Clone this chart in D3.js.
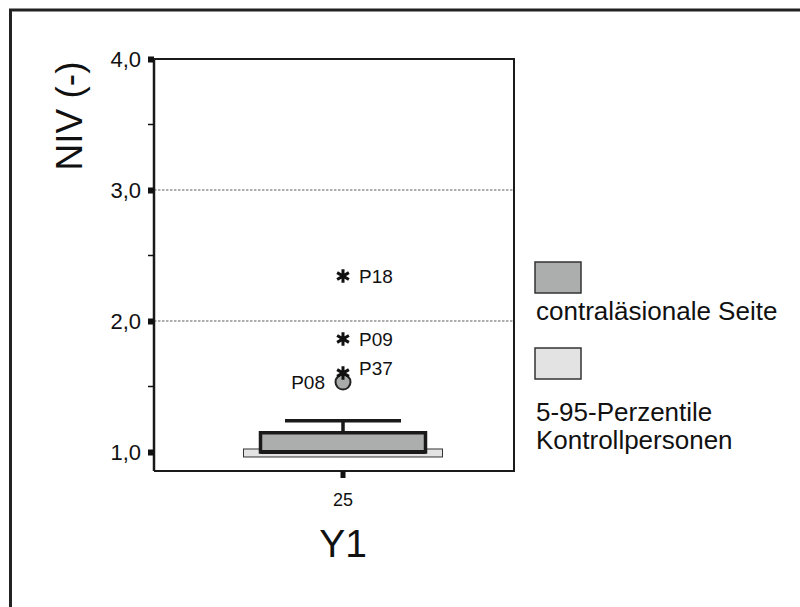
<!DOCTYPE html>
<html><head><meta charset="utf-8">
<script src="https://cdn.jsdelivr.net/npm/d3@7"></script>
<style>
html,body{margin:0;padding:0;background:#fff;overflow:hidden}
text{font-family:Arial,"Liberation Sans",sans-serif;fill:#111}
</style></head>
<body>
<svg id="c" width="800" height="607"></svg>
<script>
// ---- data ----
const categories = ["25"];
const groupLabel = "Y1";
const boxStats = [{cat:"25", q1:1.0, median:1.0, q3:1.147, whiskerHigh:1.239, whiskerLow:1.0}];
const controlRange = [{cat:"25", low:0.962, high:1.023}];
const extremes = [
  {cat:"25", id:"P18", value:2.343},
  {cat:"25", id:"P09", value:1.863},
  {cat:"25", id:"P37", value:1.603}
];
const outliers = [{cat:"25", id:"P08", value:1.534}];
const yTicks = [1.0, 2.0, 3.0, 4.0];
const yMinorTicks = [1.5, 2.5, 3.5];
const gridValues = [2.0, 3.0];
const legendItems = [
  {label:["contraläsionale Seite"], fill:"#acaeae"},
  {label:["5-95-Perzentile","Kontrollpersonen"], fill:"#e3e3e3"}
];

const svg = d3.select("#c");
// outer frame
svg.append("rect").attr("x",10.5).attr("y",10).attr("width",820).attr("height",640)
  .attr("fill","none").attr("stroke","#222").attr("stroke-width",3);

const L=154, R=514, T=59, B=471;
const y = d3.scaleLinear().domain([0.855,4.0]).range([B,T]);
const x = d3.scaleBand().domain(categories).range([172,R]);
const cx = c => x(c)+x.bandwidth()/2;

// gridlines
svg.append("g").selectAll("line").data(gridValues).join("line")
  .attr("x1",L).attr("x2",R).attr("y1",d=>y(d)).attr("y2",d=>y(d))
  .attr("stroke","#333").attr("stroke-width",0.8).attr("stroke-dasharray","2.5,1.5");

// plot frame (top, right, bottom)
svg.append("path").attr("d",`M${L},${T}H${R}V${B}H${L}`)
  .attr("fill","none").attr("stroke","#1a1a1a").attr("stroke-width",2);

// y axis
const yAxis = d3.axisLeft(y).tickValues(yTicks).tickSize(0).tickPadding(13)
  .tickFormat(d=>d3.format(".1f")(d).replace(".",","));
const gy = svg.append("g").attr("transform",`translate(${L},0)`).call(yAxis);
gy.select(".domain").attr("d",`M0,${T}V${B}`).attr("stroke","#1a1a1a").attr("stroke-width",2.5);
gy.selectAll(".tick text").attr("font-size",22).attr("fill","#111").attr("font-family","Arial, Liberation Sans, sans-serif").attr("dy","0.35em");
gy.selectAll(".tick").append("rect").attr("x",-6).attr("y",-3).attr("width",6).attr("height",6).attr("fill","#111");
svg.append("g").selectAll("line").data(yMinorTicks).join("line")
  .attr("x1",L-6).attr("x2",L).attr("y1",d=>y(d)).attr("y2",d=>y(d))
  .attr("stroke","#111").attr("stroke-width",1.5);

// x axis
const xAxis = d3.axisBottom(x).tickSize(0).tickPadding(22);
const gx = svg.append("g").attr("transform",`translate(0,${B})`).call(xAxis);
gx.select(".domain").remove();
gx.selectAll(".tick text").attr("font-size",18).attr("fill","#111").attr("font-family","Arial, Liberation Sans, sans-serif");
gx.selectAll(".tick").append("rect").attr("x",-2.5).attr("y",0).attr("width",5).attr("height",7).attr("fill","#111");

// axis titles
svg.append("text").attr("transform",`translate(82,116) rotate(-90)`)
  .attr("text-anchor","middle").attr("font-size",37).text("NIV (-)");
svg.append("text").attr("x",cx(categories[0])).attr("y",557)
  .attr("text-anchor","middle").attr("font-size",39).text(groupLabel);

// control range (light box)
const boxW = 165, ctrlW = 199, capW = 116;
svg.append("g").selectAll("rect").data(controlRange).join("rect")
  .attr("x",d=>cx(d.cat)-ctrlW/2).attr("width",ctrlW)
  .attr("y",d=>y(d.high)).attr("height",d=>y(d.low)-y(d.high))
  .attr("fill","#e3e3e3").attr("stroke","#333").attr("stroke-width",1);

// box
const gb = svg.append("g");
boxStats.forEach(d=>{
  const c = cx(d.cat);
  gb.append("line").attr("x1",c).attr("x2",c).attr("y1",y(d.q3)).attr("y2",y(d.whiskerHigh))
    .attr("stroke","#1a1a1a").attr("stroke-width",3.5);
  gb.append("line").attr("x1",c-capW/2).attr("x2",c+capW/2).attr("y1",y(d.whiskerHigh)).attr("y2",y(d.whiskerHigh))
    .attr("stroke","#1a1a1a").attr("stroke-width",3.5);
  gb.append("rect").attr("x",c-boxW/2).attr("width",boxW)
    .attr("y",y(d.q3)).attr("height",y(d.q1)-y(d.q3))
    .attr("fill","#acaeae").attr("stroke","#1a1a1a").attr("stroke-width",3.5);
  gb.append("line").attr("x1",c-boxW/2).attr("x2",c+boxW/2).attr("y1",y(d.median)).attr("y2",y(d.median))
    .attr("stroke","#1a1a1a").attr("stroke-width",4);
});

// outliers (circle)
const go = svg.append("g");
go.selectAll("circle").data(outliers).join("circle")
  .attr("cx",d=>cx(d.cat)).attr("cy",d=>y(d.value)).attr("r",7.5)
  .attr("fill","#a9abab").attr("stroke","#222").attr("stroke-width",2);
go.selectAll("text").data(outliers).join("text")
  .attr("x",d=>cx(d.cat)-18).attr("y",d=>y(d.value)).attr("dy","0.36em")
  .attr("text-anchor","end").attr("font-size",19).text(d=>d.id);

// extremes (asterisks)
const star = d3.symbol().type(d3.symbolAsterisk).size(130);
const ge = svg.append("g");
ge.selectAll("path").data(extremes).join("path")
  .attr("transform",d=>`translate(${cx(d.cat)},${y(d.value)})`)
  .attr("d",star).attr("fill","none").attr("stroke","#111").attr("stroke-width",3);
ge.selectAll("text").data(extremes).join("text")
  .attr("x",d=>cx(d.cat)+16).attr("y",d=>y(d.value)).attr("dy",(d,i)=> i===2 ? "0.1em" : "0.36em")
  .attr("font-size",19).text(d=>d.id);

// legend
const lg = svg.append("g");
const legY = [262, 348];
legendItems.forEach((it,i)=>{
  lg.append("rect").attr("x",535).attr("y",legY[i]).attr("width",46).attr("height",31)
    .attr("fill",it.fill).attr("stroke","#333").attr("stroke-width",1.5);
  it.label.forEach((t,j)=>{
    lg.append("text").attr("x",536).attr("y",legY[i]+58+(i===1?15:0)+j*28).attr("font-size",26).text(t);
  });
});
</script>
</body></html>
